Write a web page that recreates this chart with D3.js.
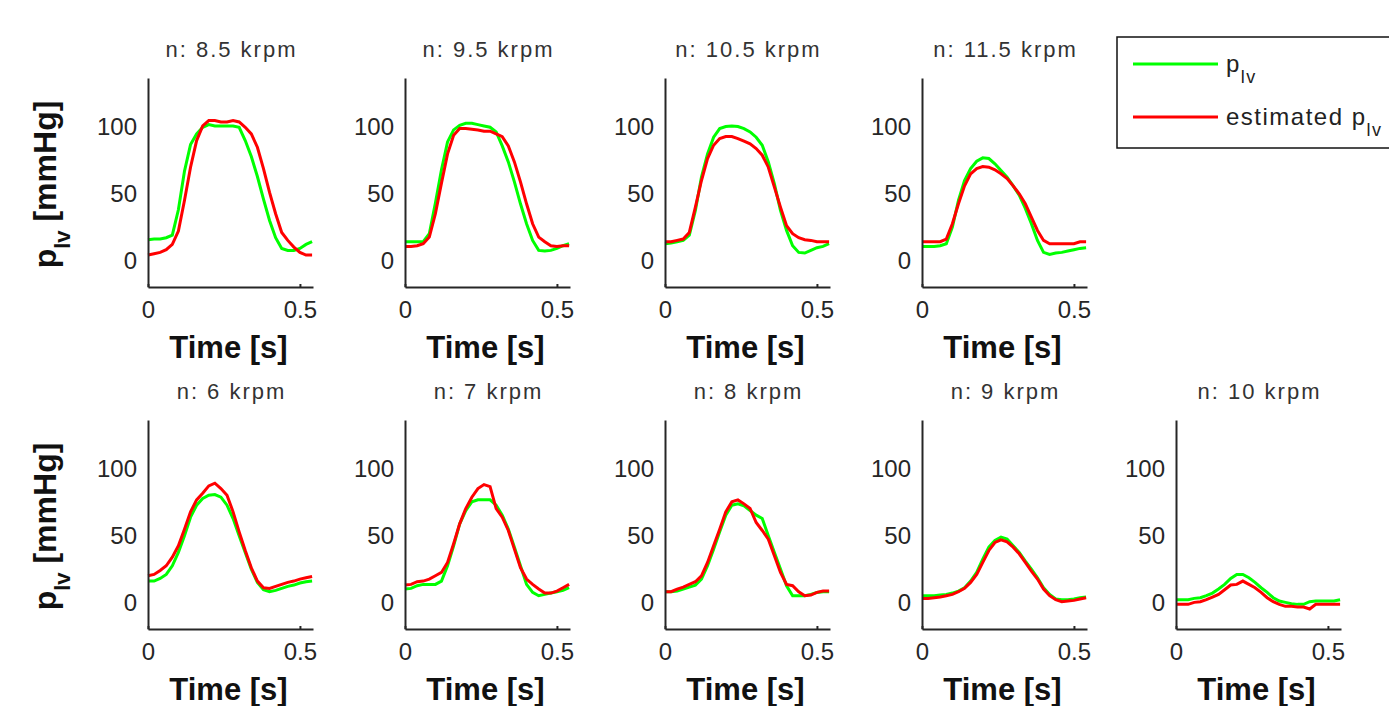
<!DOCTYPE html>
<html lang="en">
<head>
<meta charset="utf-8">
<title>Measured and estimated p_lv</title>
<script src="https://d3js.org/d3.v7.min.js"></script>
<style>
  body { margin: 0; background: #fff; }
  svg text { font-family: "Liberation Sans", Arial, sans-serif; }
</style>
</head>
<body>
<div id="graph"></div>
<script>

// time samples [s]
var time = [0, 0.02, 0.04, 0.06, 0.08, 0.10, 0.12, 0.14, 0.16, 0.18, 0.20, 0.22, 0.24, 0.26,
            0.28, 0.30, 0.32, 0.34, 0.36, 0.38, 0.40, 0.42, 0.44, 0.46, 0.48, 0.50, 0.52, 0.54];

// pump speeds
var titles = ["n: 8.5 krpm", "n: 9.5 krpm", "n: 10.5 krpm", "n: 11.5 krpm",
              "n: 6 krpm", "n: 7 krpm", "n: 8 krpm", "n: 9 krpm", "n: 10 krpm"];

// measured p_lv [mmHg]
var plv85  = [15.5, 16, 16, 17, 19, 38, 67, 87, 95, 100, 102, 101, 101, 101, 101, 100, 90, 78, 63, 46, 30, 17, 9, 7.5, 7.5, 9, 12, 14];
var plv95  = [14, 14, 14, 14, 20, 43, 68, 89, 98, 101.5, 103, 103, 102, 101, 100, 96.5, 86, 74, 59, 42.5, 27.5, 15, 7.5, 7, 7.5, 9, 11, 12.5];
var plv105 = [12.5, 13, 14, 15, 19, 37.5, 62.5, 80, 92.5, 99, 100.5, 101, 100.5, 99, 96.5, 92.5, 86.5, 74, 57.5, 37.5, 22.5, 11, 6, 5.5, 7.5, 9.5, 10.5, 12.5];
var plv115 = [10.5, 10.5, 10.5, 11, 12.5, 25, 45, 60, 69, 74.5, 77, 76.5, 72.5, 67.5, 62.5, 56, 49, 39, 27.5, 15, 6, 4.5, 5.5, 6, 7, 8, 9, 9.5];
var plv6   = [16, 16, 18, 21, 27.5, 37.5, 50, 64, 73, 78, 80.5, 81, 79, 73, 63, 50, 37.5, 25, 15, 9.5, 8, 9, 10.5, 12, 13, 14.5, 15.5, 16];
var plv7   = [10, 10.5, 12.5, 13.5, 13.5, 13.5, 16, 27.5, 42.5, 59, 69, 75.5, 77, 77, 77, 73, 65.5, 55, 41.5, 27.5, 13.5, 7.5, 5, 6, 7, 8, 9, 11];
var plv8   = [8, 8, 8.5, 10, 11.5, 13, 17.5, 27.5, 40, 53, 65.5, 73, 74, 72.5, 69, 65.5, 63, 50, 37.5, 25, 12.5, 5, 5, 5, 6, 7.5, 8, 8];
var plv9   = [5, 5, 5, 5.5, 6, 7, 8.5, 11, 16, 22.5, 32.5, 41.5, 46.5, 49, 47.5, 42.5, 37.5, 31, 25, 18.5, 11, 6, 2.5, 2, 2, 2.5, 3.5, 4];
var plv10  = [2, 2, 2, 3, 3.5, 5, 7, 10, 13.5, 18, 21, 21, 18.5, 15, 11, 7.5, 3.5, 1, 0, -1, -1.5, -1.5, 0.5, 1, 1, 1, 1, 2];

// estimated p_lv [mmHg]
var est85  = [4, 5, 6, 8, 12, 22, 45, 70, 90, 101, 105, 105, 104, 104, 105, 104, 100, 95, 85, 69, 51, 35, 21, 15, 10, 6, 4, 4];
var est95  = [10.5, 10.5, 11, 12.5, 17.5, 35, 58, 80, 94, 99, 99, 98.5, 98, 97, 97, 95, 93, 86, 74, 59, 42.5, 27.5, 17.5, 14, 11, 10.5, 11, 11];
var est105 = [14, 14, 15, 16, 21, 40, 60, 76.5, 86.5, 91.5, 93, 93, 91.5, 89.5, 87.5, 84, 79, 70, 55, 40, 26, 20, 17, 15.5, 15, 14, 14, 14];
var est115 = [14, 14, 14, 14, 16, 27.5, 42.5, 56, 65, 69, 70.5, 70, 68, 65, 61.5, 56, 50, 42.5, 32.5, 22.5, 15, 12.5, 12.5, 12.5, 12.5, 12.5, 14, 14];
var est6   = [20, 21, 24, 27.5, 34, 42.5, 55, 68, 77, 82, 87.5, 89.5, 85.5, 80.5, 68, 53, 39, 26, 16, 11, 10.5, 12, 13.5, 15, 16, 17.5, 18.5, 19.5];
var est7   = [13, 13.5, 15.5, 16, 17.5, 20, 22.5, 30, 44, 59, 70.5, 79, 85.5, 88.5, 87, 70.5, 64, 54, 40, 26, 17.5, 13.5, 10, 7, 7, 8.5, 11, 13.5];
var est8   = [8, 8, 10, 11.5, 13.5, 15.5, 20, 30, 42.5, 55, 68, 75.5, 77, 74, 70.5, 60, 54, 47.5, 35, 22.5, 13.5, 12.5, 8, 5, 5.5, 7.5, 8.5, 8.5];
var est9   = [3, 3, 3.5, 4, 5, 6, 8, 10.5, 15, 21, 30, 39, 45, 47, 45.5, 41.5, 36.5, 30, 23.5, 17.5, 10, 5, 2, 0.5, 1, 1.5, 2.5, 3.5];
var est10  = [-1.5, -1.5, -1.5, 0, 0.5, 2, 4, 6, 9.5, 13, 13.5, 16, 13.5, 11, 7.5, 3.5, 0.5, -1.5, -3, -3, -3.5, -3.5, -5, -1.5, -1.5, -1.5, -1.5, -1.5];

var measured  = [plv85, plv95, plv105, plv115, plv6, plv7, plv8, plv9, plv10];
var estimated = [est85, est95, est105, est115, est6, est7, est8, est9, est10];

var yTicks = [0, 50, 100];
var xTicks = [0, 0.5];

// layout of the subplot grid
var colLeft = [148, 405, 665, 922, 1176];
var rowTop = [78, 420];
var panelW = 165, panelH = 209;
var panelRow = [0, 0, 0, 0, 1, 1, 1, 1, 1];
var panelCol = [0, 1, 2, 3, 0, 1, 2, 3, 4];

var svg = d3.select("#graph")
  .append("svg")
  .attr("width", 1389)
  .attr("height", 706);

var x = d3.scaleLinear().domain([0, 0.543]).range([0, panelW]);
var y = d3.scaleLinear().domain([-20, 137]).range([panelH, 0]);

var line = d3.line()
  .x(function(d, i) { return x(time[i]); })
  .y(function(d) { return y(d); });

titles.forEach(function(title, p) {
  var g = svg.append("g")
    .attr("transform", "translate(" + colLeft[panelCol[p]] + "," + rowTop[panelRow[p]] + ")");

  // curves
  g.append("path")
    .attr("d", line(measured[p]))
    .attr("fill", "none")
    .attr("stroke", "#00ff00")
    .attr("stroke-width", 3);
  g.append("path")
    .attr("d", line(estimated[p]))
    .attr("fill", "none")
    .attr("stroke", "#ff0000")
    .attr("stroke-width", 3);

  // axes
  var ya = g.append("g")
    .call(d3.axisLeft(y).tickValues(yTicks).tickSize(0).tickPadding(11));
  var xa = g.append("g")
    .attr("transform", "translate(0," + panelH + ")")
    .call(d3.axisBottom(x).tickValues(xTicks).tickFormat(d3.format("~g"))
      .tickSizeInner(-3).tickSizeOuter(0).tickPadding(14));

  [ya, xa].forEach(function(a) {
    a.attr("font-family", null).attr("font-size", 24).attr("color", "#262626");
    a.select(".domain").attr("stroke-width", 2);
    a.selectAll(".tick line").attr("stroke-width", 2);
  });

  // title
  g.append("text")
    .attr("x", panelW / 2 + 1)
    .attr("y", -21)
    .attr("text-anchor", "middle")
    .attr("font-size", 22)
    .attr("letter-spacing", "2px")
    .attr("fill", "#333")
    .text(title);

  // x label
  g.append("text")
    .attr("x", panelW / 2 - 2)
    .attr("y", panelH + 71)
    .attr("text-anchor", "middle")
    .attr("font-size", 31)
    .attr("font-weight", "bold")
    .attr("fill", "#111")
    .text("Time [s]");

  // y label on the first column only
  if (panelCol[p] === 0) {
    var yl = g.append("text")
      .attr("transform", "translate(" + (56 - colLeft[0]) + "," + (panelH / 2 + 2) + ") rotate(-90)")
      .attr("text-anchor", "middle")
      .attr("font-size", 32)
      .attr("font-weight", "bold")
      .attr("fill", "#111");
    yl.append("tspan").text("p");
    yl.append("tspan").attr("font-size", 22).attr("dy", 14).text("lv");
    yl.append("tspan").attr("dy", -14).text(" [mmHg]");
  }
});

// legend
var legend = svg.append("g").attr("transform", "translate(1117,37)");
legend.append("rect")
  .attr("width", 280)
  .attr("height", 111)
  .attr("fill", "#fff")
  .attr("stroke", "#111")
  .attr("stroke-width", 1.5);

var legendItems = [
  { color: "#00ff00", label: "p" },
  { color: "#ff0000", label: "estimated p" }
];
legendItems.forEach(function(d, i) {
  var ly = 27 + i * 53;
  legend.append("line")
    .attr("x1", 16).attr("x2", 101)
    .attr("y1", ly).attr("y2", ly)
    .attr("stroke", d.color)
    .attr("stroke-width", 3);
  var t = legend.append("text")
    .attr("x", 109)
    .attr("y", ly + 8)
    .attr("font-size", 24)
    .attr("letter-spacing", "1.5px")
    .attr("fill", "#222");
  t.append("tspan").text(d.label);
  t.append("tspan").attr("font-size", 18).attr("dy", 11).text("lv");
});

</script>
</body>
</html>
